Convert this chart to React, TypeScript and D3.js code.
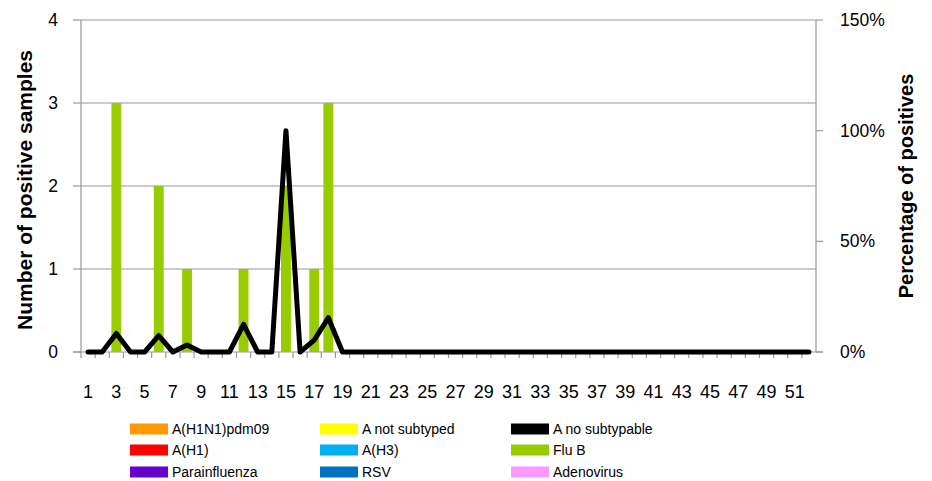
import React from "react";
import * as d3 from "d3";

const weeks: number[] = Array.from({ length: 52 }, (_, i) => i + 1);
const fluB: number[] = [0,0,3,0,0,2,0,1,0,0,0,1,0,0,2,0,1,3,0,0,0,0,0,0,0,0,0,0,0,0,0,0,0,0,0,0,0,0,0,0,0,0,0,0,0,0,0,0,0,0,0,0];
const pctPositive: number[] = [0,0,0.084,0,0,0.074,0,0.032,0,0,0,0.125,0,0,1.0,0,0.054,0.155,0,0,0,0,0,0,0,0,0,0,0,0,0,0,0,0,0,0,0,0,0,0,0,0,0,0,0,0,0,0,0,0,0,0];
const leftTicks: number[] = [0, 1, 2, 3, 4];
const rightTicks: number[] = [0, 0.5, 1, 1.5];
const legendNames: string[] = ["A(H1N1)pdm09", "A not subtyped", "A no subtypable", "A(H1)", "A(H3)", "Flu  B", "Parainfluenza", "RSV", "Adenovirus"];
const legendColors: string[] = ["#ff9900", "#ffff00", "#000000", "#ff0000", "#00b0f0", "#99cc00", "#6600cc", "#0070c0", "#ff99ff"];

const W = 932, H = 481;
const L = 81, R = 816, T = 20, B = 352;
const FONT = "'Liberation Sans', Arial, sans-serif";
const GRID = "#989898";

export default function App() {
  const x = d3.scaleBand<number>().domain(weeks).range([L, R]).paddingInner(0.3).paddingOuter(0.15);
  const step = x.step();
  const cx = (w: number) => (x(w) as number) + x.bandwidth() / 2;
  const yL = d3.scaleLinear().domain([0, 4]).range([B, T]);
  const yR = d3.scaleLinear().domain([0, 1.5]).range([B, T]);
  const line = d3.line<number>().x((_, i) => cx(weeks[i])).y((d) => yR(d));

  return (
    <svg width={W} height={H} style={{ position: "absolute", left: 0, top: 0 }} fontFamily={FONT}>
      <rect width={W} height={H} fill="#fff" />
      {leftTicks.filter((t) => t > 0).map((t) => (
        <line key={"g" + t} x1={L} x2={R} y1={yL(t)} y2={yL(t)} stroke={GRID} strokeWidth={1.2} />
      ))}
      <line x1={L} x2={L} y1={T} y2={B} stroke={GRID} strokeWidth={1.2} />
      {leftTicks.map((t) => (
        <g key={"l" + t}>
          <line x1={L - 8} x2={L} y1={yL(t)} y2={yL(t)} stroke={GRID} strokeWidth={1.2} />
          <text x={58} y={yL(t)} dy="0.35em" textAnchor="end" fontSize={17.5} fill="#000">{t}</text>
        </g>
      ))}
      <line x1={R} x2={R} y1={T} y2={B} stroke={GRID} strokeWidth={1.2} />
      {rightTicks.map((t) => (
        <g key={"r" + t}>
          <line x1={R} x2={R + 7} y1={yR(t)} y2={yR(t)} stroke={GRID} strokeWidth={1.2} />
          <text x={840} y={yR(t)} dy="0.35em" textAnchor="start" fontSize={17.5} fill="#000">{d3.format(".0%")(t)}</text>
        </g>
      ))}
      <line x1={L - 8} x2={R + 7} y1={B} y2={B} stroke={GRID} strokeWidth={1.2} />
      {weeks.map((w) => {
        const bx = (x(w) as number) - (step - x.bandwidth()) / 2;
        return <line key={"xt" + w} x1={bx} x2={bx} y1={B} y2={B + 6} stroke={GRID} strokeWidth={1.2} />;
      })}
      {weeks.filter((w) => w % 2 === 1).map((w) => (
        <text key={"xl" + w} x={cx(w)} y={398} textAnchor="middle" fontSize={18} fill="#000">{w}</text>
      ))}
      {weeks.map((w, i) => fluB[i] > 0 ? (
        <rect key={"b" + w} x={x(w)} width={x.bandwidth()} y={yL(fluB[i])} height={B - yL(fluB[i])} fill="#99cc00" />
      ) : null)}
      <path d={line(pctPositive) || ""} fill="none" stroke="#000" strokeWidth={5} strokeLinejoin="round" strokeLinecap="round" />
      <text transform={`translate(25,190) rotate(-90)`} textAnchor="middle" dy="0.35em" fontSize={21} fontWeight="bold" fill="#000">Number of positive samples</text>
      <text transform={`translate(906,186) rotate(-90)`} textAnchor="middle" dy="0.35em" fontSize={20} fontWeight="bold" fill="#000">Percentage of positives</text>
      {legendNames.map((n, i) => {
        const col = i % 3, row = Math.floor(i / 3);
        const sx = [130, 320, 511][col];
        const sy = [429, 450, 472][row];
        return (
          <g key={"lg" + i}>
            <rect x={sx} y={sy - 5.5} width={38} height={11} fill={legendColors[i]} />
            <text x={sx + 42} y={sy} dy="0.35em" fontSize={14} fill="#000">{n}</text>
          </g>
        );
      })}
    </svg>
  );
}
